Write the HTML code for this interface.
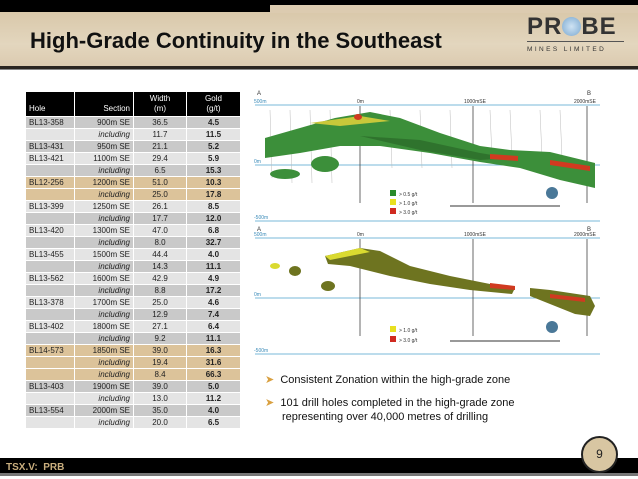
<!DOCTYPE html>
<html><head><meta charset="utf-8"><style>
*{margin:0;padding:0;box-sizing:border-box}
body{width:638px;height:479px;background:#fff;position:relative;overflow:hidden;font-family:"Liberation Sans",Arial,sans-serif}
.abs{position:absolute}
table{border-collapse:separate;border-spacing:1px 1px;font-size:8px;color:#222}
td{height:11px;line-height:11px;padding:0 3px}
th{background:#000;color:#fff;font-weight:normal;font-size:8px;line-height:10px;vertical-align:bottom;padding:2px 3px}
</style></head><body>
<div class="abs" style="left:0;top:0;width:638px;height:5px;background:#000"></div>
<div class="abs" style="left:0;top:0;width:270px;height:12px;background:#000"></div>
<div class="abs" style="left:0;top:12px;width:638px;height:54px;background:linear-gradient(#d9c8aa,#e3d6be 60%,#dccbb0)"></div>
<div class="abs" style="left:270px;top:5px;width:368px;height:8px;background:#dccbb0"></div>
<div class="abs" style="left:0;top:66px;width:638px;height:4px;background:#2a2520;border-bottom:1px solid #888"></div>
<div class="abs" style="left:30px;top:28px;font-size:22px;font-weight:bold;color:#111">High-Grade Continuity in the Southeast</div>
<div class="abs" style="left:527px;top:15px;width:97px">
<div style="font-size:24px;font-weight:bold;color:#333;letter-spacing:1px;line-height:23px">PR<span style="display:inline-block;width:19px;height:19px;border-radius:50%;background:radial-gradient(#cfe3f3,#7aa8d0);vertical-align:-2px"></span>BE</div>
<div style="border-top:1px solid #555;margin-top:3px;font-size:6.5px;letter-spacing:2.4px;color:#333;padding-top:4px">MINES LIMITED</div>
</div>

<table class="abs" style="left:25px;top:91px;width:216px">
<thead><tr style="height:24px">
<th style="text-align:left;width:48px">Hole</th><th style="text-align:right;width:58px">Section</th><th style="text-align:center;width:52px">Width<br>(m)</th><th style="text-align:center">Gold<br>(g/t)</th></tr></thead>
<tbody id="tb"></tbody></table>

<svg class="abs" style="left:250px;top:88px" width="352" height="140">
<text x="7" y="7" font-size="6" fill="#333">A</text><text x="337" y="7" font-size="6" fill="#333">B</text>
<line x1="5" y1="17" x2="350" y2="17" stroke="#7ab8d8"/><line x1="5" y1="77" x2="350" y2="77" stroke="#7ab8d8"/><line x1="5" y1="133" x2="350" y2="133" stroke="#7ab8d8"/>
<text x="4" y="15" font-size="5" fill="#3a8ab8">500m</text><text x="4" y="75" font-size="5" fill="#3a8ab8">0m</text><text x="4" y="131" font-size="5" fill="#3a8ab8">-500m</text>
<text x="107" y="15" font-size="5" fill="#333">0m</text><text x="214" y="15" font-size="5" fill="#333">1000mSE</text><text x="324" y="15" font-size="5" fill="#333">2000mSE</text>
<g stroke="#bbb" stroke-width="0.5"><line x1="20" y1="22" x2="22" y2="90"/><line x1="40" y1="22" x2="42" y2="95"/><line x1="60" y1="22" x2="62" y2="95"/><line x1="80" y1="22" x2="82" y2="95"/><line x1="140" y1="22" x2="142" y2="80"/><line x1="170" y1="22" x2="172" y2="80"/><line x1="200" y1="22" x2="202" y2="80"/><line x1="240" y1="22" x2="242" y2="70"/><line x1="260" y1="22" x2="262" y2="70"/><line x1="290" y1="22" x2="292" y2="70"/><line x1="310" y1="22" x2="312" y2="70"/></g>
<g stroke="#444" stroke-width="0.8"><line x1="110" y1="18" x2="110" y2="115"/><line x1="223" y1="18" x2="223" y2="115"/><line x1="337" y1="18" x2="337" y2="115"/></g>
<polygon points="15,50 50,40 85,30 120,24 150,30 190,45 230,58 260,62 300,64 345,75 345,100 310,92 270,80 230,74 180,65 130,58 90,58 50,65 15,70" fill="#3c8f3a"/>
<polygon points="110,48 170,52 230,65 260,70 230,72 170,62" fill="#2a6628" opacity=".7"/>
<ellipse cx="35" cy="86" rx="15" ry="5" fill="#3c8f3a"/><ellipse cx="75" cy="76" rx="14" ry="8" fill="#3c8f3a"/>
<polygon points="60,35 110,28 140,33 90,38" fill="#c8c83a"/>
<polygon points="240,66 268,68 268,73 240,71" fill="#d03a20"/><polygon points="300,72 340,78 340,83 300,77" fill="#d03a20"/>
<ellipse cx="108" cy="29" rx="4" ry="3" fill="#d03a20"/>
<rect x="140" y="102" width="6" height="6" fill="#2a8a2a"/><rect x="140" y="111" width="6" height="6" fill="#e8e020"/><rect x="140" y="120" width="6" height="6" fill="#d02a20"/>
<text x="149" y="108" font-size="5" fill="#333">&gt; 0.5 g/t</text><text x="149" y="117" font-size="5" fill="#333">&gt; 1.0 g/t</text><text x="149" y="126" font-size="5" fill="#333">&gt; 3.0 g/t</text>
<line x1="200" y1="118" x2="310" y2="118" stroke="#333"/><circle cx="302" cy="105" r="6" fill="#4a7898"/>
</svg>

<svg class="abs" style="left:250px;top:226px" width="352" height="134">
<text x="7" y="5" font-size="6" fill="#333">A</text><text x="337" y="5" font-size="6" fill="#333">B</text>
<line x1="5" y1="12" x2="350" y2="12" stroke="#7ab8d8"/><line x1="5" y1="72" x2="350" y2="72" stroke="#7ab8d8"/><line x1="5" y1="128" x2="350" y2="128" stroke="#7ab8d8"/>
<text x="4" y="10" font-size="5" fill="#3a8ab8">500m</text><text x="4" y="70" font-size="5" fill="#3a8ab8">0m</text><text x="4" y="126" font-size="5" fill="#3a8ab8">-500m</text>
<text x="107" y="10" font-size="5" fill="#333">0m</text><text x="214" y="10" font-size="5" fill="#333">1000mSE</text><text x="324" y="10" font-size="5" fill="#333">2000mSE</text>
<g stroke="#444" stroke-width="0.8"><line x1="110" y1="13" x2="110" y2="110"/><line x1="223" y1="13" x2="223" y2="110"/><line x1="337" y1="13" x2="337" y2="110"/></g>
<polygon points="75,30 110,22 130,25 160,40 200,50 240,58 265,62 262,68 220,64 180,58 140,50 100,40 78,38" fill="#6e7420"/>
<polygon points="280,62 300,64 340,70 345,80 340,90 325,88 300,78 280,70" fill="#6e7420"/>
<polygon points="75,30 110,22 120,26 80,34" fill="#dada30"/>
<polygon points="240,57 265,60 265,64 240,62" fill="#d03a20"/><polygon points="300,68 335,72 335,76 300,72" fill="#d03a20"/>
<ellipse cx="45" cy="45" rx="6" ry="5" fill="#6e7420"/><ellipse cx="78" cy="60" rx="7" ry="5" fill="#6e7420"/><ellipse cx="25" cy="40" rx="5" ry="3" fill="#dada30"/>
<rect x="140" y="100" width="6" height="6" fill="#e8e020"/><rect x="140" y="110" width="6" height="6" fill="#d02a20"/>
<text x="149" y="106" font-size="5" fill="#333">&gt; 1.0 g/t</text><text x="149" y="116" font-size="5" fill="#333">&gt; 3.0 g/t</text>
<line x1="200" y1="115" x2="310" y2="115" stroke="#333"/><circle cx="302" cy="101" r="6" fill="#4a7898"/>
</svg>

<div class="abs" style="left:265px;top:373px;font-size:11px;color:#111"><span style="color:#d9a040">&#10148;</span>&nbsp;&nbsp;Consistent Zonation within the high-grade zone</div>
<div class="abs" style="left:265px;top:396px;font-size:11px;color:#111;line-height:14px"><span style="color:#d9a040">&#10148;</span>&nbsp;&nbsp;101 drill holes completed in the high-grade zone<br><span style="padding-left:17px">representing over 40,000 metres of drilling</span></div>

<div class="abs" style="left:0;top:458px;width:638px;height:18px;background:#000;border-bottom:3px solid #777"></div>
<div class="abs" style="left:6px;top:462px;font-size:10px;font-weight:bold;color:#c9ae7e">TSX.V:&nbsp; PRB</div>
<div class="abs" style="left:581px;top:436px;width:37px;height:37px;border-radius:50%;background:#d8c6a2;border:2px solid #222;text-align:center;line-height:33px;font-size:12px;color:#222">9</div>

<script>
const holes=["BL13-358","","BL13-431","BL13-421","","BL12-256","","BL13-399","","BL13-420","","BL13-455","","BL13-562","","BL13-378","","BL13-402","","BL14-573","","","BL13-403","","BL13-554",""];
const sections=["900m SE","including","950m SE","1100m SE","including","1200m SE","including","1250m SE","including","1300m SE","including","1500m SE","including","1600m SE","including","1700m SE","including","1800m SE","including","1850m SE","including","including","1900m SE","including","2000m SE","including"];
const widths=["36.5","11.7","21.1","29.4","6.5","51.0","25.0","26.1","17.7","47.0","8.0","44.4","14.3","42.9","8.8","25.0","12.9","27.1","9.2","39.0","19.4","8.4","39.0","13.0","35.0","20.0"];
const golds=["4.5","11.5","5.2","5.9","15.3","10.3","17.8","8.5","12.0","6.8","32.7","4.0","11.1","4.9","17.2","4.6","7.4","6.4","11.1","16.3","31.6","66.3","5.0","11.2","4.0","6.5"];
const tan=[5,6,19,20,21];
const tb=document.getElementById('tb');
holes.forEach((h,i)=>{
  const tr=document.createElement('tr');
  
  
  const bg=tan.includes(i)?'#dcc39a':(i%2===0?'#c9c9c9':'#e4e4e4');
  const cells=[[h,'left',''],[sections[i],'right',sections[i]==='including'?'font-style:italic;':''],[widths[i],'center',''],[golds[i],'center','font-weight:bold;']];
  cells.forEach(c=>{const td=document.createElement('td');td.textContent=c[0];td.style.cssText='background:'+bg+';text-align:'+c[1]+';'+c[2];tr.appendChild(td);});
  tb.appendChild(tr);
});
</script>
</body></html>
